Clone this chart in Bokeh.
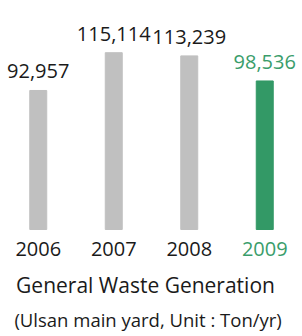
from bokeh.plotting import figure
from bokeh.models import ColumnDataSource, FactorRange, Range1d, Label
from bokeh.embed import file_html
from bokeh.resources import INLINE
from bokeh.core.properties import value

years = ["2006", "2007", "2008", "2009"]
waste = [92957, 115114, 113239, 98536]
bar_colors = ["#c0c0c0", "#c0c0c0", "#c0c0c0", "#339966"]
text_colors = ["#1a1a1a", "#1a1a1a", "#1a1a1a", "#3a9d6b"]
title_text = "General Waste Generation"
subtitle_text = "(Ulsan main yard,  Unit : Ton/yr)"

BASE = 11431
UNITS_PER_PX = 586.4
W, H = 302, 336
BASE_PX = 229

labels = [f"{v:,}" for v in waste]
src = ColumnDataSource(dict(year=years, waste=waste, bar_color=bar_colors,
                            text_color=text_colors, label=labels,
                            base=[BASE] * len(years)))

p = figure(width=W, height=H, output_backend="svg", toolbar_location=None,
           x_range=FactorRange(*years, range_padding=0),
           y_range=Range1d(BASE - (H - BASE_PX) * UNITS_PER_PX, BASE + BASE_PX * UNITS_PER_PX),
           min_border=0, min_border_left=0, min_border_right=0,
           min_border_top=0, min_border_bottom=0)
p.axis.visible = False
p.grid.visible = False
p.outline_line_color = None
p.background_fill_color = None
p.border_fill_color = None

p.vbar(x="year", top="waste", bottom="base", width=0.225, color="bar_color", source=src)

font = value("Open Sans")
p.text(x="year", y="waste", text="label", text_color="text_color", source=src,
       text_font=font, text_font_size="20px", text_align="center",
       text_baseline="alphabetic", y_offset=-19)
p.text(x="year", y="base", text="year", text_color="text_color", source=src,
       text_font=font, text_font_size="20px", text_align="center",
       text_baseline="alphabetic", y_offset=19)

p.add_layout(Label(x=145, y=52, x_units="screen", y_units="screen", text=title_text,
                   text_font="Open Sans", text_font_size="21px", text_align="center",
                   text_baseline="alphabetic", text_color="#1a1a1a"))
p.add_layout(Label(x=150, y=17, x_units="screen", y_units="screen", text=subtitle_text,
                   text_font="Open Sans", text_font_size="18.5px", text_align="center",
                   text_baseline="alphabetic", text_color="#1a1a1a"))

open("out.html", "w").write(file_html(p, INLINE))
